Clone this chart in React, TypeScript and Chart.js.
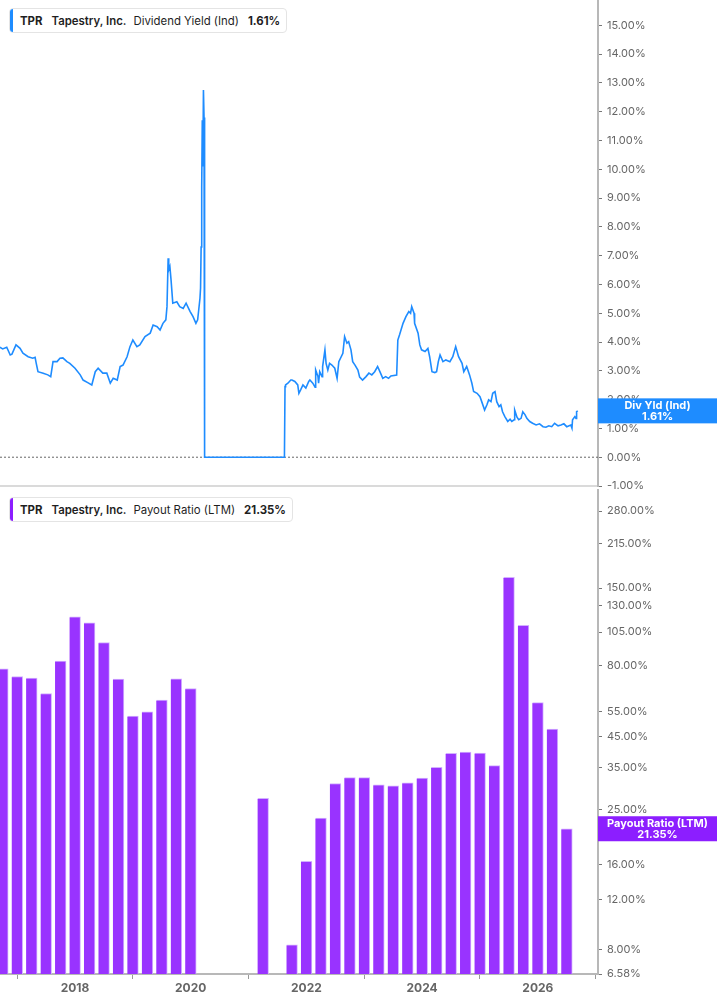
import { useEffect, useRef } from 'react';
import Chart from 'chart.js/auto';

const X_MIN = 2016.7035;
const X_MAX = 2027.04;

// dividend yield (%), dates as decimal years
const divYieldDates = [
  2016.70, 2016.75, 2016.82, 2016.88, 2016.91, 2016.98, 2017.05, 2017.10, 2017.19, 2017.27,
  2017.31, 2017.33, 2017.36, 2017.45, 2017.53, 2017.58, 2017.62, 2017.69, 2017.74, 2017.79,
  2017.86, 2017.91, 2018.00, 2018.09, 2018.14, 2018.22, 2018.29, 2018.35, 2018.40, 2018.48,
  2018.55, 2018.61, 2018.66, 2018.73, 2018.78, 2018.83, 2018.90, 2018.95, 2019.00, 2019.07,
  2019.12, 2019.21, 2019.30, 2019.35, 2019.42, 2019.47, 2019.52, 2019.57, 2019.59, 2019.61,
  2019.62, 2019.64, 2019.66, 2019.69, 2019.76, 2019.81, 2019.87, 2019.92, 2019.99, 2020.04,
  2020.09, 2020.12, 2020.16, 2020.17, 2020.18, 2020.19, 2020.20, 2020.21, 2020.22, 2020.23,
  2020.24, 2021.62, 2021.63, 2021.64, 2021.68, 2021.73, 2021.75, 2021.80, 2021.85, 2021.87,
  2021.90, 2021.94, 2021.99, 2022.04, 2022.06, 2022.11, 2022.15, 2022.16, 2022.20, 2022.21,
  2022.23, 2022.27, 2022.28, 2022.32, 2022.34, 2022.37, 2022.40, 2022.44, 2022.49, 2022.53,
  2022.56, 2022.63, 2022.66, 2022.70, 2022.73, 2022.77, 2022.80, 2022.84, 2022.89, 2022.92,
  2022.97, 2023.03, 2023.08, 2023.13, 2023.18, 2023.23, 2023.27, 2023.32, 2023.37, 2023.42,
  2023.46, 2023.56, 2023.58, 2023.61, 2023.67, 2023.72, 2023.77, 2023.80, 2023.82, 2023.86,
  2023.87, 2023.93, 2023.96, 2023.99, 2024.05, 2024.10, 2024.13, 2024.17, 2024.22, 2024.25,
  2024.28, 2024.31, 2024.36, 2024.41, 2024.48, 2024.53, 2024.58, 2024.63, 2024.69, 2024.72,
  2024.77, 2024.82, 2024.86, 2024.89, 2024.95, 2025.00, 2025.03, 2025.08, 2025.12, 2025.15,
  2025.19, 2025.22, 2025.26, 2025.29, 2025.33, 2025.36, 2025.39, 2025.43, 2025.48, 2025.52,
  2025.55, 2025.59, 2025.60, 2025.64, 2025.67, 2025.71, 2025.74, 2025.78, 2025.81, 2025.86,
  2025.91, 2025.97, 2026.03, 2026.09, 2026.14, 2026.19, 2026.24, 2026.29, 2026.35, 2026.40,
  2026.45, 2026.50, 2026.57, 2026.59, 2026.60, 2026.64, 2026.66, 2026.67, 2026.69,
];
const divYieldValues = [
  3.82, 3.76, 3.82, 3.55, 3.58, 3.90, 3.78, 3.61, 3.49, 3.44,
  3.47, 3.26, 2.97, 2.92, 2.86, 2.80, 3.32, 3.32, 3.44, 3.45,
  3.32, 3.26, 3.09, 2.86, 2.68, 2.59, 2.51, 2.97, 3.09, 2.92,
  2.92, 2.57, 2.74, 2.68, 3.15, 3.20, 3.49, 3.84, 4.07, 3.84,
  3.90, 4.19, 4.31, 4.59, 4.53, 4.42, 4.65, 4.77, 5.23, 6.91,
  6.50, 6.62, 6.16, 5.35, 5.40, 5.23, 5.17, 5.35, 5.06, 4.88,
  4.65, 4.77, 5.52, 5.87, 7.30, 9.40, 11.70, 10.10, 12.75, 11.80,
  0, 0, 2.45, 2.51, 2.57, 2.68, 2.68, 2.63, 2.51, 2.22,
  2.34, 2.51, 2.40, 2.63, 2.68, 2.57, 2.43, 3.03, 2.80, 2.57,
  2.97, 2.80, 3.15, 3.73, 3.26, 3.03, 3.26, 3.20, 3.09, 2.74,
  3.32, 3.61, 4.19, 3.96, 4.01, 3.73, 3.32, 3.20, 3.03, 2.78,
  2.68, 2.80, 2.92, 2.86, 2.97, 3.15, 2.97, 2.74, 2.80, 2.74,
  2.82, 2.85, 4.07, 4.25, 4.65, 4.88, 5.06, 5.00, 5.23, 5.00,
  4.65, 4.31, 3.90, 3.73, 3.67, 3.78, 3.49, 2.97, 2.94, 2.97,
  3.32, 3.55, 3.32, 3.38, 3.32, 3.49, 3.84, 3.49, 3.26, 2.97,
  3.15, 2.86, 2.57, 2.28, 2.22, 2.10, 1.93, 1.64, 1.82, 1.99,
  1.93, 2.22, 2.28, 1.93, 1.76, 1.82, 1.58, 1.41, 1.24, 1.32,
  1.24, 1.30, 1.64, 1.39, 1.30, 1.35, 1.58, 1.47, 1.35, 1.24,
  1.18, 1.12, 1.16, 1.06, 1.04, 1.09, 1.06, 1.18, 1.09, 1.12,
  1.16, 1.06, 1.12, 1.01, 1.30, 1.41, 1.35, 1.58, 1.61,
];
const divYieldTicks = [-1, 0, 1, 2, 3, 4, 5, 6, 7, 8, 9, 10, 11, 12, 13, 14, 15];

// payout ratio (LTM, %) per quarter
const payoutDates = [
  2016.75, 2017.00, 2017.25, 2017.50, 2017.75, 2018.00, 2018.25, 2018.50, 2018.75, 2019.00,
  2019.25, 2019.50, 2019.75, 2020.00, 2021.25, 2021.75, 2022.00, 2022.25, 2022.50, 2022.75,
  2023.00, 2023.25, 2023.50, 2023.75, 2024.00, 2024.25, 2024.50, 2024.75, 2025.00, 2025.25,
  2025.50, 2025.75, 2026.00, 2026.25, 2026.50,
];
const payoutValues = [
  78.0, 73.3, 72.4, 63.9, 83.1, 119.0, 113.3, 96.6, 71.8, 53.2,
  55.1, 60.6, 72.0, 66.5, 27.3, 8.33, 16.4, 23.3, 30.8, 32.3,
  32.3, 30.5, 30.2, 31.0, 32.2, 35.1, 39.3, 39.7, 39.4, 35.6,
  163.7, 110.9, 59.3, 47.9, 21.35,
];
const payoutTicks = [6.58, 8, 12, 16, 20, 25, 35, 45, 55, 80, 105, 130, 150, 215, 280];

const yearTicks = [2018, 2020, 2022, 2024, 2026];

const BLUE = '#1E8CFF';
const PURPLE = '#9933FF';
const PURPLE_DARK = '#8C1EFF';
const AXIS_GRAY = '#B8B8B8';
const FONT = 'Inter, "Noto Sans", sans-serif';

Chart.defaults.font.family = FONT;

// value badge drawn on the right axis at the last value
const badgePlugin = {
  id: 'badge',
  afterDraw(chart: any, _args: any, opts: any) {
    if (!opts || !opts.title) return;
    const { ctx } = chart;
    const y = chart.scales.y.getPixelForValue(opts.value);
    const x = chart.chartArea.right;
    const w = chart.width - x;
    ctx.save();
    ctx.fillStyle = opts.color;
    ctx.fillRect(x, y - 12.5, w, 25);
    ctx.fillStyle = '#fff';
    ctx.font = `bold 11px ${FONT}`;
    ctx.textAlign = 'center';
    ctx.textBaseline = 'middle';
    ctx.fillText(opts.title, x + w / 2, y - 5.5);
    ctx.fillText(opts.text, x + w / 2, y + 6);
    ctx.restore();
  },
};

const pct = (v: any) => Number(v).toFixed(2) + '%';

function yAxisFit(scale: any) {
  scale.width = 119;
  scale.paddingTop = 0;
  scale.paddingBottom = 0;
}

function DividendYieldChart() {
  const canvasRef = useRef<HTMLCanvasElement>(null);

  useEffect(() => {
    if (!canvasRef.current) return;
    const line = divYieldDates.map((d, i) => ({ x: d, y: divYieldValues[i] }));
    const chart = new Chart(canvasRef.current, {
      type: 'line',
      data: {
        datasets: [
          {
            data: line,
            borderColor: BLUE,
            borderWidth: 1.6,
            pointRadius: 0,
            tension: 0,
          },
          {
            // dotted zero line
            data: [{ x: X_MIN, y: 0 }, { x: X_MAX, y: 0 }],
            borderColor: '#666',
            borderWidth: 1,
            borderDash: [2, 2],
            pointRadius: 0,
          },
        ],
      },
      options: {
        animation: false,
        responsive: true,
        maintainAspectRatio: false,
        layout: { padding: 0 },
        plugins: {
          legend: { display: false },
          tooltip: { enabled: false },
          // @ts-ignore
          badge: { value: 1.61, title: 'Div Yld (Ind)', text: '1.61%', color: BLUE },
        },
        scales: {
          x: {
            type: 'linear',
            min: X_MIN,
            max: X_MAX,
            ticks: { display: false },
            grid: { drawOnChartArea: false, drawTicks: false },
            border: { color: '#DADADA', width: 2 },
            afterFit: (s: any) => {
              s.height = 9;
              s.paddingLeft = 0;
              s.paddingRight = 0;
            },
          },
          y: {
            type: 'linear',
            position: 'right',
            min: -1,
            max: 15.88,
            afterBuildTicks: (s: any) => {
              s.ticks = divYieldTicks.map((v) => ({ value: v }));
            },
            afterFit: yAxisFit,
            ticks: {
              callback: pct,
              color: '#666',
              font: { size: 11 },
              padding: 5,
              autoSkip: false,
            },
            grid: { drawOnChartArea: false, tickLength: 4, tickColor: '#777', tickWidth: 1 },
            border: { color: AXIS_GRAY, width: 2 },
          },
        },
      },
      plugins: [badgePlugin],
    } as any);
    return () => chart.destroy();
  }, []);

  return <canvas ref={canvasRef} />;
}

function PayoutRatioChart() {
  const canvasRef = useRef<HTMLCanvasElement>(null);

  useEffect(() => {
    if (!canvasRef.current) return;
    const bars = payoutDates.map((d, i) => ({ x: d, y: payoutValues[i] }));
    const chart = new Chart(canvasRef.current, {
      type: 'bar',
      data: {
        datasets: [
          {
            data: bars,
            backgroundColor: PURPLE,
            borderColor: '#D2B0FF',
            borderWidth: { top: 1, right: 1, left: 0, bottom: 0 },
            borderSkipped: false,
            barThickness: 11,
          },
        ],
      },
      options: {
        animation: false,
        responsive: true,
        maintainAspectRatio: false,
        layout: { padding: 0 },
        plugins: {
          legend: { display: false },
          tooltip: { enabled: false },
          // @ts-ignore
          badge: { value: 21.35, title: 'Payout Ratio (LTM)', text: '21.35%', color: PURPLE_DARK },
        },
        scales: {
          x: {
            type: 'linear',
            offset: false,
            min: X_MIN,
            max: X_MAX,
            afterBuildTicks: (s: any) => {
              s.ticks = yearTicks.map((v) => ({ value: v }));
            },
            afterFit: (s: any) => {
              s.height = 31;
              s.paddingLeft = 0;
              s.paddingRight = 0;
            },
            ticks: {
              callback: (v: any) => String(v),
              color: '#666',
              font: { size: 12, weight: 'bold' },
              padding: 2,
              autoSkip: false,
              maxRotation: 0,
            },
            grid: { drawOnChartArea: false, tickLength: 5, tickColor: '#999', tickWidth: 1 },
            border: { color: AXIS_GRAY, width: 2 },
          },
          y: {
            type: 'logarithmic',
            position: 'right',
            min: 6.58,
            max: 335,
            afterBuildTicks: (s: any) => {
              s.ticks = payoutTicks.map((v) => ({ value: v }));
            },
            afterFit: yAxisFit,
            ticks: {
              callback: pct,
              color: '#666',
              font: { size: 11 },
              padding: 5,
              autoSkip: false,
            },
            grid: { drawOnChartArea: false, tickLength: 4, tickColor: '#777', tickWidth: 1 },
            border: { color: AXIS_GRAY, width: 2 },
          },
        },
      },
      plugins: [badgePlugin],
    } as any);
    return () => chart.destroy();
  }, []);

  return <canvas ref={canvasRef} />;
}

function Legend({ top, color, series, value }: { top: number; color: string; series: string; value: string }) {
  return (
    <div
      style={{
        position: 'absolute',
        left: 9,
        top,
        height: 25,
        display: 'flex',
        alignItems: 'center',
        border: '1px solid #E4E4E4',
        borderRadius: 4,
        background: '#fff',
        fontFamily: FONT,
        fontSize: 11.4,
        color: '#1F1F1F',
        paddingLeft: 10,
        paddingRight: 6,
        whiteSpace: 'nowrap',
        boxSizing: 'border-box',
        overflow: 'hidden',
      }}
    >
      <div style={{ position: 'absolute', left: 0, top: 0, bottom: 0, width: 3, background: color }} />
      <span style={{ fontWeight: 700 }}>TPR</span>
      <span style={{ fontWeight: 600, marginLeft: 9 }}>Tapestry, Inc.</span>
      <span style={{ marginLeft: 7 }}>{series}</span>
      <span style={{ fontWeight: 700, marginLeft: 9 }}>{value}</span>
    </div>
  );
}

export default function App() {
  return (
    <div style={{ position: 'absolute', left: 0, top: 0, width: 717, height: 1005, background: '#fff', overflow: 'hidden' }}>
      <div style={{ position: 'absolute', left: 0, top: 0, width: 717, height: 495 }}>
        <DividendYieldChart />
      </div>
      <div style={{ position: 'absolute', left: 0, top: 489, width: 717, height: 516 }}>
        <PayoutRatioChart />
      </div>
      <Legend top={8} color={BLUE} series="Dividend Yield (Ind)" value="1.61%" />
      <Legend top={497} color={PURPLE_DARK} series="Payout Ratio (LTM)" value="21.35%" />
    </div>
  );
}
